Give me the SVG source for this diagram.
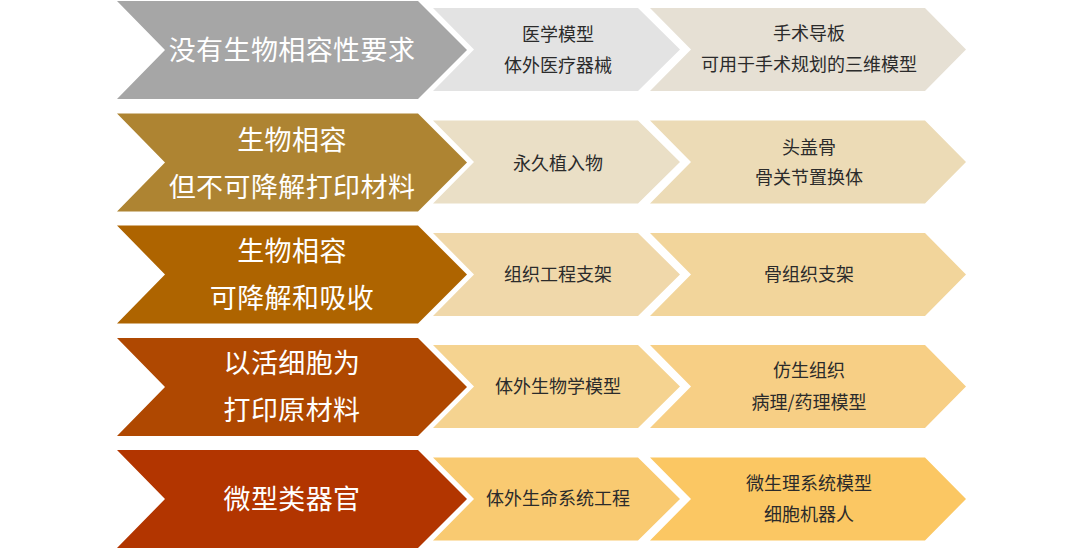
<svg xmlns="http://www.w3.org/2000/svg" width="1080" height="548" viewBox="0 0 1080 548">
<style>
text{font-family:"Noto Sans CJK SC","Noto Sans",sans-serif;text-anchor:middle;dominant-baseline:central}
.big{font-size:27px;fill:#ffffff;letter-spacing:0.4px}
.sm{font-size:18px;fill:#2b2b2b}
</style>
<rect width="1080" height="548" fill="#ffffff"/>
<defs>
<path id="bigC" d="M0,-49 L301,-49 L350,0 L301,49 L0,49 L48,0 Z"/>
<path id="midC" d="M0,-41.5 L205,-41.5 L247,0 L205,41.5 L0,41.5 L41,0 Z"/>
<path id="rigC" d="M0,-41.5 L275,-41.5 L316,0 L275,41.5 L0,41.5 L41,0 Z"/>
</defs>
<g id="connectors"></g>
<g id="row1">
<use href="#bigC" x="117" y="50" fill="#A6A6A6"/>
<use href="#midC" x="433" y="49.5" fill="#E3E3E3"/>
<use href="#rigC" x="650" y="49.5" fill="#E6E0D4"/>
<text class="big" x="292" y="48">没有生物相容性要求</text>
<text class="sm" x="558" y="33">医学模型</text>
<text class="sm" x="558" y="64">体外医疗器械</text>
<text class="sm" x="809" y="32">手术导板</text>
<text class="sm" x="809" y="63">可用于手术规划的三维模型</text>
</g>
<g id="row2">
<use href="#bigC" x="117" y="162.5" fill="#AE8432"/>
<use href="#midC" x="433" y="162" fill="#EADFC6"/>
<use href="#rigC" x="650" y="162" fill="#ECDBB6"/>
<text class="big" x="292" y="138">生物相容</text>
<text class="big" x="292" y="185">但不可降解打印材料</text>
<text class="sm" x="558" y="162">永久植入物</text>
<text class="sm" x="809" y="146">头盖骨</text>
<text class="sm" x="809" y="176">骨关节置换体</text>
</g>
<g id="row3">
<use href="#bigC" x="117" y="274.5" fill="#AE6400"/>
<use href="#midC" x="433" y="274.5" fill="#F0D8AA"/>
<use href="#rigC" x="650" y="274.5" fill="#F2D59B"/>
<text class="big" x="292" y="249">生物相容</text>
<text class="big" x="292" y="296">可降解和吸收</text>
<text class="sm" x="558" y="273">组织工程支架</text>
<text class="sm" x="809" y="273">骨组织支架</text>
</g>
<g id="row4">
<use href="#bigC" x="117" y="387" fill="#AF4801"/>
<use href="#midC" x="433" y="386.5" fill="#F5D390"/>
<use href="#rigC" x="650" y="386.5" fill="#F7CF85"/>
<text class="big" x="292" y="361">以活细胞为</text>
<text class="big" x="292" y="408">打印原材料</text>
<text class="sm" x="558" y="385">体外生物学模型</text>
<text class="sm" x="809" y="369">仿生组织</text>
<text class="sm" x="809" y="401">病理/药理模型</text>
</g>
<g id="row5">
<use href="#bigC" x="117" y="499" fill="#B23500"/>
<use href="#midC" x="433" y="499" fill="#F9CA71"/>
<use href="#rigC" x="650" y="499" fill="#FBC763"/>
<text class="big" x="292" y="497">微型类器官</text>
<text class="sm" x="558" y="497">体外生命系统工程</text>
<text class="sm" x="809" y="482">微生理系统模型</text>
<text class="sm" x="809" y="513">细胞机器人</text>
</g>
</svg>
